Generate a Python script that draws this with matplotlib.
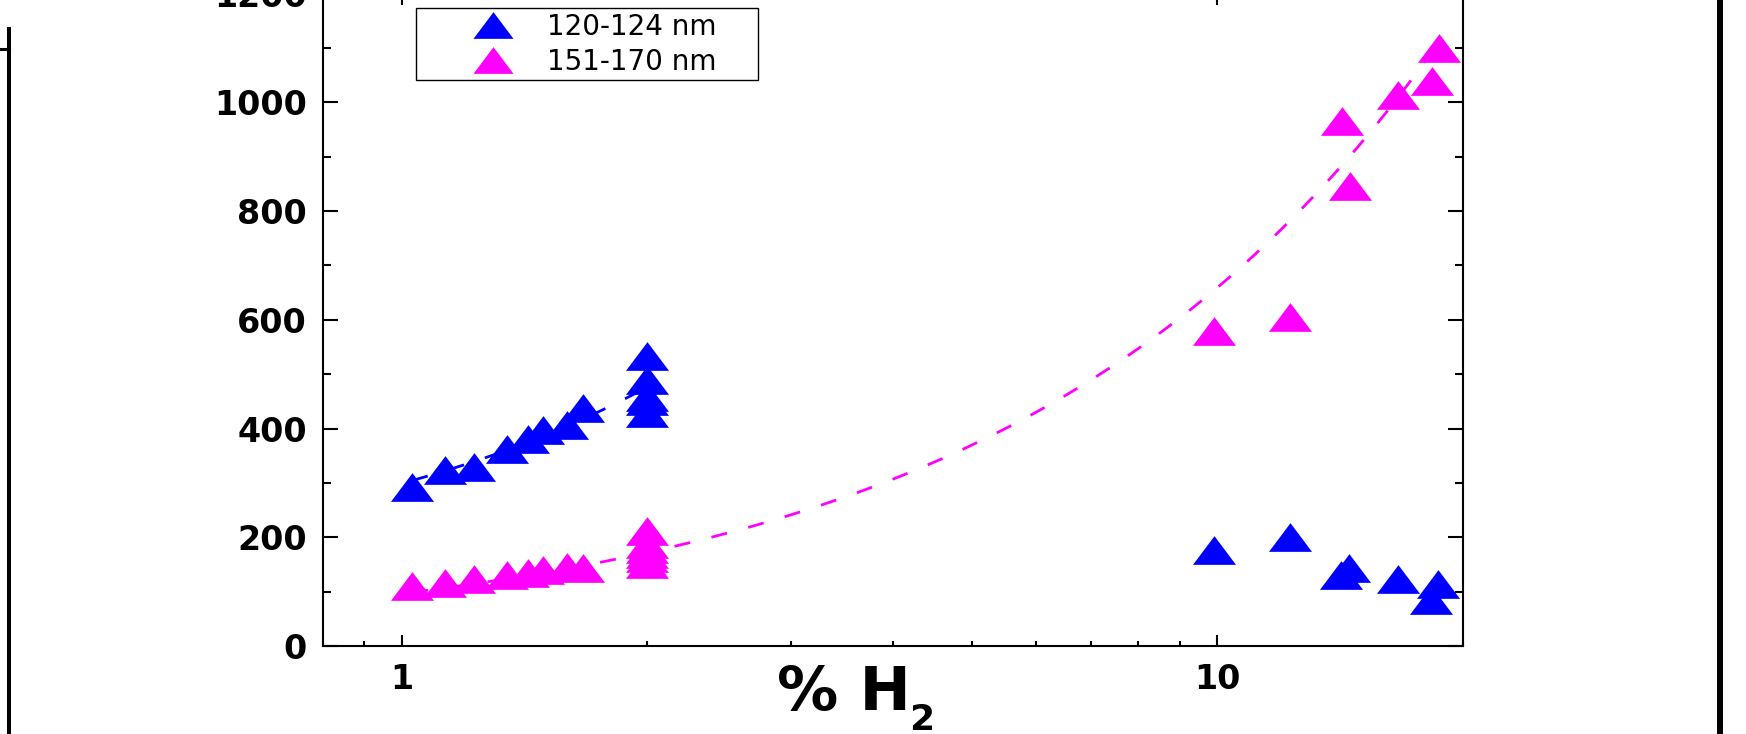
import matplotlib
matplotlib.use("Agg")
import matplotlib.pyplot as plt
from matplotlib.lines import Line2D
from matplotlib import ticker
import numpy as np

# 120-124 nm (blue) series
x_blue = [1.03, 1.13, 1.227, 1.345, 1.429, 1.489, 1.593, 1.667,
          2.0, 2.0, 2.0, 2.0, 2.0,
          9.92, 12.29, 14.51, 14.2, 16.64, 18.67, 18.28]
y_blue = [292, 323, 330, 363, 381, 397, 406, 438,
          533, 490, 458, 450, 429,
          177, 200, 143, 131, 124, 114, 85]

# 151-170 nm (magenta) series
x_mag = [1.03, 1.13, 1.227, 1.345, 1.429, 1.489, 1.593, 1.667,
         2.0, 2.0, 2.0, 2.0, 2.0, 2.0,
         9.92, 12.29, 14.23, 14.54, 16.68, 18.32, 18.69]
y_mag = [110, 115, 123, 131, 135, 139, 145, 144,
         212, 188, 178, 170, 162, 151,
         579, 606, 965, 847, 1013, 1040, 1100]

# points
trend_x = [1.81, 2.23, 6.58, 10.14, 13.47, 17.6]
trend_y = [158, 189, 458, 676, 851, 1047]

labels = ["120-124 nm", "151-170 nm"]
c_blue = "#0000FF"
c_mag = "#FF00FF"

plt.rcParams['font.family'] = ['DejaVu Sans']

fig = plt.figure(figsize=(17.46, 7.34), dpi=100)
ax = fig.add_axes([0.18482, 0.11989, 0.65292, 0.88883])

# wide triangle marker (the original picture is stretched sideways)
tri = [(-1.5, -1), (1.5, -1), (0, 1), (-1.5, -1)]

xb = np.array(x_blue)
yb = np.array(y_blue)
xm = np.array(x_mag)

dash = (0, (5.8, 7.9))

# linear fit of the blue points up to 2 %
sel = xb <= 2.0
pb = np.polyfit(xb[sel], yb[sel], 1)
xf_b = np.linspace(xb[sel].min(), xb[sel].max(), 100)
ax.plot(xf_b, np.polyval(pb, xf_b), color=c_blue, lw=2, ls=dash, zorder=2)

# power-law trend through the magenta points
pm = np.polyfit(np.log10(trend_x), np.log10(trend_y), 1)
xf_m = np.logspace(np.log10(xm.min()), np.log10(xm.max()), 300)
ax.plot(xf_m, 10 ** np.polyval(pm, np.log10(xf_m)), color=c_mag, lw=2,
        ls=dash, zorder=2)

ax.plot(x_blue, y_blue, ls='none', marker=tri, ms=31, mew=0,
        color=c_blue, label=labels[0], zorder=3)
ax.plot(x_mag, y_mag, ls='none', marker=tri, ms=31, mew=0,
        color=c_mag, label=labels[1], zorder=3)

ax.set_xscale('log')
ax.set_xlim(0.8, 20)
ax.set_ylim(0, 1200)

ax.xaxis.set_major_locator(ticker.FixedLocator([1, 10]))
ax.xaxis.set_major_formatter(ticker.FormatStrFormatter('%g'))
ax.xaxis.set_minor_locator(ticker.LogLocator(base=10, subs=np.arange(2, 10), numticks=20))
ax.xaxis.set_minor_formatter(ticker.NullFormatter())
ax.yaxis.set_major_locator(ticker.MultipleLocator(200))
ax.yaxis.set_minor_locator(ticker.MultipleLocator(100))

for s in ax.spines.values():
    s.set_linewidth(1.5)

ax.tick_params(axis='both', which='both', direction='in',
               top=True, right=True, width=1.5, color='black')
ax.tick_params(axis='x', which='major', length=8, pad=12.5)
ax.tick_params(axis='x', which='minor', length=3.7)
ax.tick_params(axis='y', which='major', length=10.5, pad=11.5)
ax.tick_params(axis='y', which='minor', length=5.5)
for lab in ax.get_xticklabels() + ax.get_yticklabels():
    lab.set_fontsize(24)
    lab.set_fontweight('bold')

ax.set_xlabel('% H', fontsize=44, fontweight='bold')
ax.xaxis.set_label_coords(0.4573, -0.028)
ax.annotate('2', xy=(1, 0), xycoords=ax.xaxis.label, xytext=(-1, -5),
            textcoords='offset points', ha='left', va='baseline',
            fontsize=26, fontweight='bold')

leg = ax.legend(loc='upper left', bbox_to_anchor=(0.08158, 0.5, 0.30053, 0.47747),
                mode='expand', borderaxespad=0, fancybox=False,
                edgecolor='black', framealpha=1, fontsize=20,
                markerscale=0.93, borderpad=0.16, labelspacing=0.25,
                handlelength=5.27, handletextpad=-0.72, numpoints=1)
leg.get_frame().set_linewidth(1.0)

# edges of the neighbouring panels that are cut into the picture
fig.add_artist(Line2D([9 / 1746, 9 / 1746], [1 - 29 / 734, 0],
                      transform=fig.transFigure, color='black', lw=2.9))
fig.add_artist(Line2D([0, 9 / 1746], [1 - 49 / 734, 1 - 49 / 734],
                      transform=fig.transFigure, color='black', lw=2.2))
fig.add_artist(Line2D([1720 / 1746, 1720 / 1746], [0, 1],
                      transform=fig.transFigure, color='black', lw=4.3))

fig.savefig('out.png', dpi=100)
